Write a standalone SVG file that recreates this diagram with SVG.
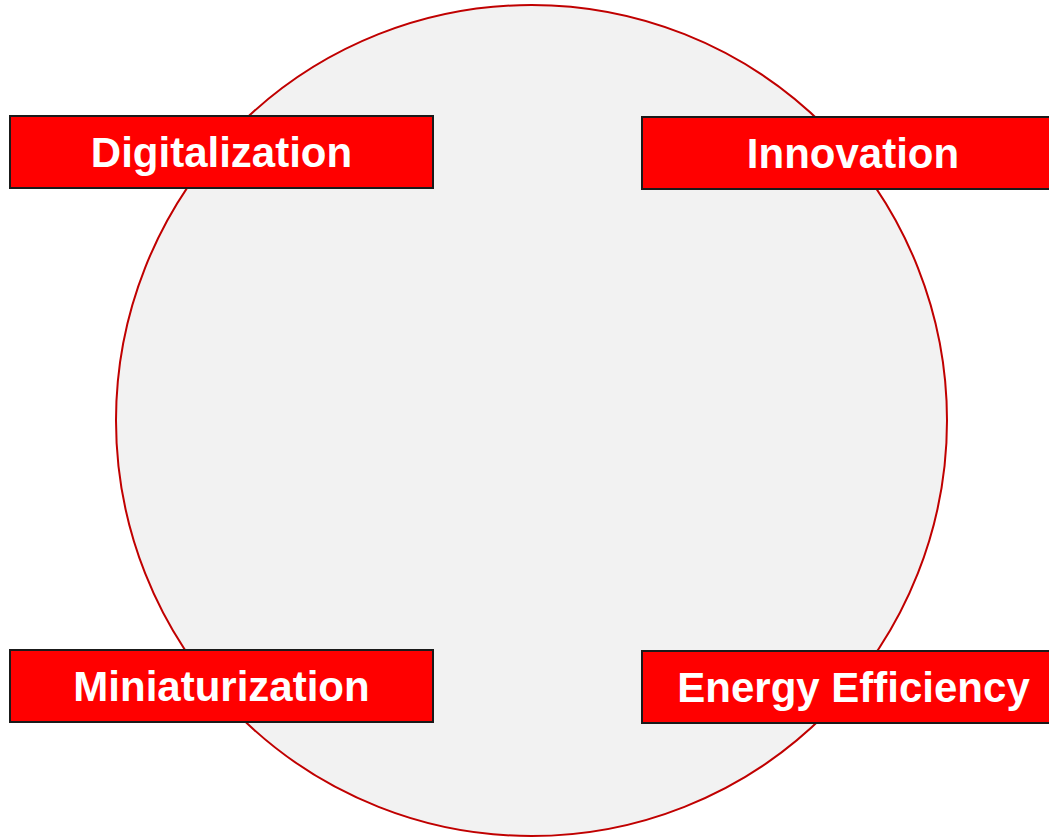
<svg xmlns="http://www.w3.org/2000/svg" width="1049" height="838" viewBox="0 0 1049 838">
<style>
.box{fill:#FF0000;stroke:#1a1a1a;stroke-width:2}
.lbl{font-family:"Liberation Sans",Arial,sans-serif;font-weight:bold;font-size:42px;fill:#FFFFFF;text-anchor:middle}
</style>
<rect width="1049" height="838" fill="#FFFFFF"/>
<g id="circle">
<circle cx="531.5" cy="420.5" r="415.5" fill="#F2F2F2" stroke="#C00000" stroke-width="2"/>
</g>
<g id="connectors"></g>
<g id="digitalization">
<rect class="box" x="10" y="116" width="423" height="72"/>
<text class="lbl" x="221.5" y="167">Digitalization</text>
</g>
<g id="innovation">
<rect class="box" x="642" y="117" width="423" height="72"/>
<text class="lbl" x="853" y="168">Innovation</text>
</g>
<g id="miniaturization">
<rect class="box" x="10" y="650" width="423" height="72"/>
<text class="lbl" x="221.5" y="701">Miniaturization</text>
</g>
<g id="energy-efficiency">
<rect class="box" x="642" y="651" width="423" height="72"/>
<text class="lbl" x="853.5" y="702">Energy Efficiency</text>
</g>
</svg>
